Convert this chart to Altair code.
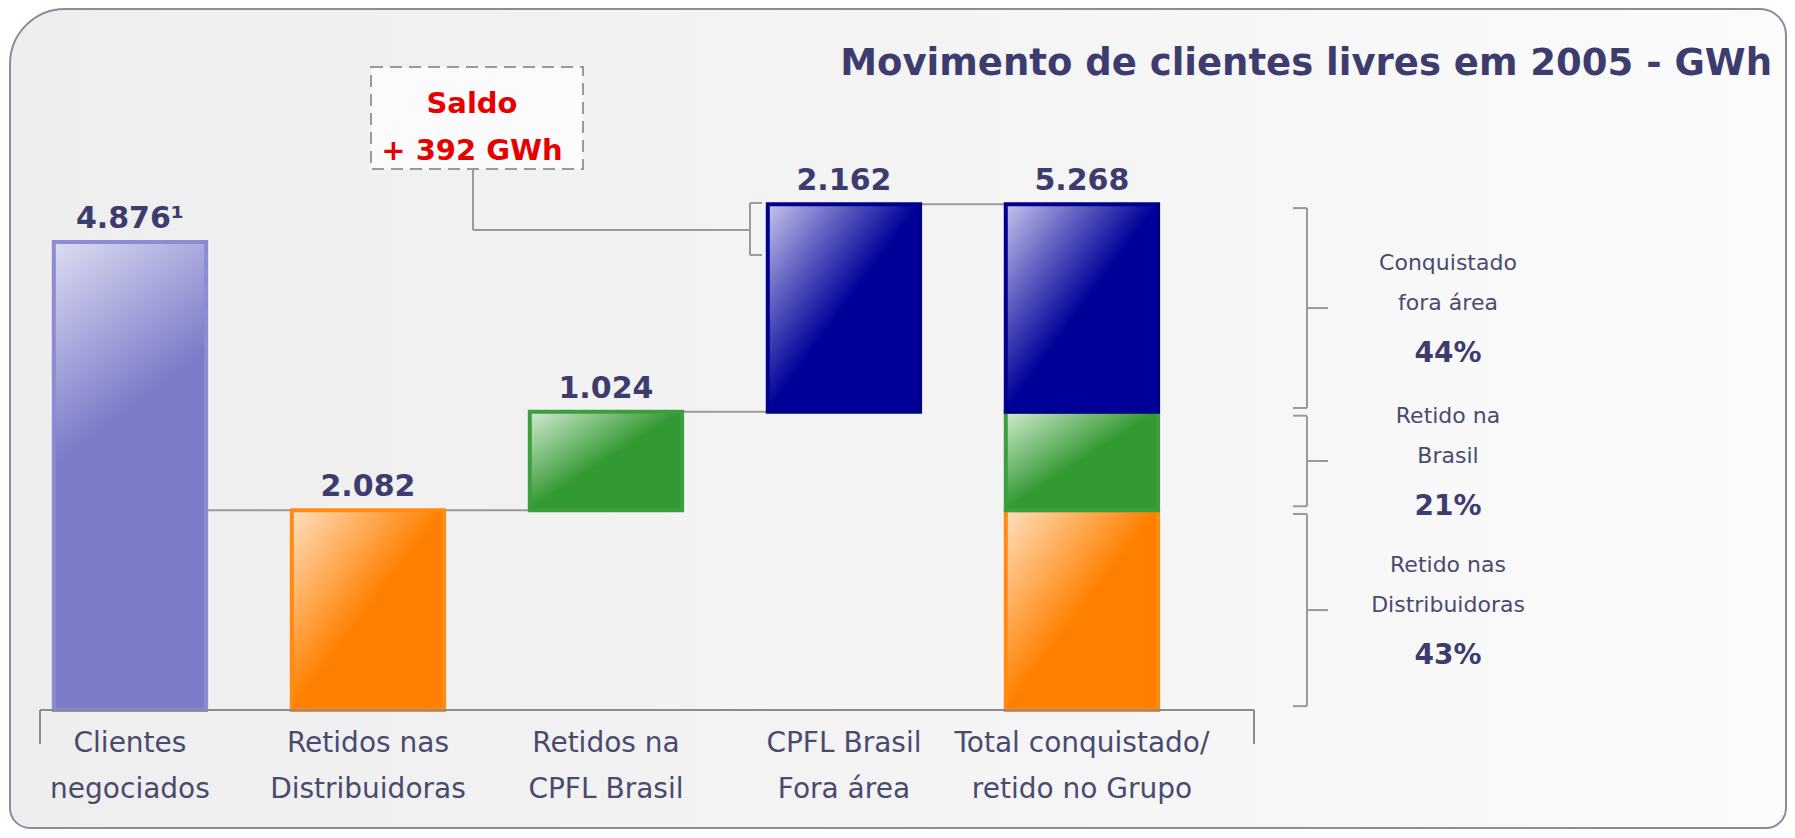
import altair as alt
import pandas as pd

# ---------------- data ----------------
categories = [
    "Clientes\nnegociados",
    "Retidos nas\nDistribuidoras",
    "Retidos na\nCPFL Brasil",
    "CPFL Brasil\nFora área",
    "Total conquistado/\nretido no Grupo",
]
clientes_negociados = 4876
retidos_distribuidoras = 2082
retidos_cpfl_brasil = 1024
cpfl_fora_area = 2162
footnotes = ["¹", "", "", "", ""]

share_labels = ["Conquistado\nfora área", "Retido na\nBrasil", "Retido nas\nDistribuidoras"]
share_pcts = ["44%", "21%", "43%"]

title_text = "Movimento de clientes livres em 2005 - GWh"
saldo_word = "Saldo"

# ---------------- derived tables ----------------
lvl1 = retidos_distribuidoras
lvl2 = lvl1 + retidos_cpfl_brasil
total = lvl2 + cpfl_fora_area
saldo = total - clientes_negociados


def br(n):
    return f"{n:,}".replace(",", ".")


HALF = 0.32
bars = pd.DataFrame({
    "idx": [0, 1, 2, 3, 4, 4, 4],
    "start": [0, 0, lvl1, lvl2, 0, lvl1, lvl2],
    "end": [clientes_negociados, lvl1, lvl2, total, lvl1, lvl2, total],
    "grp": ["lav", "org", "grn", "nav", "org", "grn", "nav"],
})
bars["x0"] = bars["idx"] - HALF
bars["x1"] = bars["idx"] + HALF

tops = [clientes_negociados, lvl1, lvl2, total, total]
labels = pd.DataFrame({
    "idx": list(range(5)),
    "top": tops,
    "cat": categories,
    "txt": [br(v) + f for v, f in zip([clientes_negociados, retidos_distribuidoras,
                                        retidos_cpfl_brasil, cpfl_fora_area, total], footnotes)],
})

conn = pd.DataFrame({
    "xa": [0 + HALF, 2 + HALF, 3 + HALF],
    "xb": [2 - HALF, 3 - HALF, 4 - HALF],
    "lvl": [lvl1, lvl2, total],
})

GAP = 40  # small visual gap between brackets, in data units
segs = pd.DataFrame({
    "start": [lvl2, lvl1, 0],
    "end": [total, lvl2, lvl1],
    "label": share_labels,
    "pct": share_pcts,
})
segs["mid"] = (segs["start"] + segs["end"]) / 2
segs["gs"] = segs["start"] + GAP
segs["ge"] = segs["end"] - GAP

one = pd.DataFrame({"d": [0]})

# ---------------- layout / style ----------------
W, H = 1214, 672
XS = alt.Scale(domain=[-0.378, 4.723], nice=False, zero=False)
YS = alt.Scale(domain=[0, 7000], nice=False)
NAVY_TXT = "#3c3c6e"
LBL_TXT = "#4a4a70"
FONT = "DejaVu Sans"
gray = "#9a9a9a"


def X(f):
    return alt.X(f, scale=XS, axis=None)


def Y(f):
    return alt.Y(f, scale=YS, axis=None)


def grad(light, base, x2=1.0, y2=1.0, stop=0.5):
    return alt.LinearGradient(
        gradient="linear", x1=0, y1=0, x2=x2, y2=y2,
        stops=[alt.GradientStop(color=light, offset=0),
               alt.GradientStop(color=base, offset=stop),
               alt.GradientStop(color=base, offset=1)])


# group: (light, base, stroke, gradient vector x2, y2, stop)
styles = {
    "lav": ("#dcdcf2", "#7b7bc9", "#8c8cd4", 0.22, 0.9, 0.5),
    "org": ("#ffe0c0", "#ff8000", "#ff8a14", 1.0, 1.0, 0.5),
    "grn": ("#d2ead0", "#339933", "#3c9e3c", 1.0, 1.0, 0.5),
    "nav": ("#c4c4ec", "#000099", "#00008a", 1.0, 1.0, 0.5),
}

# frame
frame = alt.Chart(one).mark_rect(
    fill=alt.LinearGradient(gradient="linear", x1=0, y1=0, x2=1, y2=0,
                            stops=[alt.GradientStop(color="#eeeeee", offset=0),
                                   alt.GradientStop(color="#f5f5f5", offset=0.6),
                                   alt.GradientStop(color="#fbfbfb", offset=1)]),
    stroke="#8a8aa0", strokeWidth=2,
    cornerRadiusTopLeft=55, cornerRadiusTopRight=26,
    cornerRadiusBottomLeft=20, cornerRadiusBottomRight=20,
).encode(x=alt.value(-30), x2=alt.value(1746), y=alt.value(-29), y2=alt.value(790))

title = alt.Chart(one).mark_text(
    text=title_text, align="right", baseline="alphabetic", font=FONT,
    fontSize=37, fontWeight="bold", color=NAVY_TXT,
).encode(x=alt.value(1732), y=alt.value(37))

# saldo box
saldo_box = alt.Chart(one).mark_rect(
    fill="#fbfbfb", stroke="#9a9a9a", strokeWidth=2, strokeDash=[12, 7],
).encode(x=alt.value(331), x2=alt.value(543), y=alt.value(29), y2=alt.value(131))
saldo_t1 = alt.Chart(one).mark_text(
    text=saldo_word, align="center", baseline="alphabetic", font=FONT,
    fontSize=29, fontWeight="bold", color="#e60000",
).encode(x=alt.value(432), y=alt.value(75))
saldo_t2 = alt.Chart(one).mark_text(
    text=f"+ {saldo} GWh", align="center", baseline="alphabetic", font=FONT,
    fontSize=29, fontWeight="bold", color="#e60000",
).encode(x=alt.value(432), y=alt.value(122))

saldo_v = alt.Chart(one).mark_rule(color=gray, strokeWidth=2).encode(
    x=alt.value(433), y=alt.value(131), y2=alt.value(192))
saldo_h = alt.Chart(one).mark_rule(color=gray, strokeWidth=2).encode(
    x=alt.value(433), x2=alt.value(710), y=alt.value(192))
saldo_b = alt.Chart(one).mark_rule(color=gray, strokeWidth=2).encode(
    x=alt.value(710), y=alt.value(165), y2=alt.value(217))
saldo_b1 = alt.Chart(one).mark_rule(color=gray, strokeWidth=2).encode(
    x=alt.value(710), x2=alt.value(722), y=alt.value(165))
saldo_b2 = alt.Chart(one).mark_rule(color=gray, strokeWidth=2).encode(
    x=alt.value(710), x2=alt.value(722), y=alt.value(217))

# waterfall connectors
connectors = alt.Chart(conn).mark_rule(color=gray, strokeWidth=2).encode(
    x=X("xa:Q"), x2="xb:Q", y=Y("lvl:Q"))

# bars
bar_layers = []
for g, (light, base, stroke, gx, gy, gs) in styles.items():
    bar_layers.append(
        alt.Chart(bars).transform_filter(alt.datum.grp == g).mark_rect(
            fill=grad(light, base, gx, gy, gs), stroke=stroke, strokeWidth=4,
        ).encode(x=X("x0:Q"), x2="x1:Q", y=Y("start:Q"), y2="end:Q")
    )

# baseline (x axis line) and end ticks
base_line = alt.Chart(one).mark_rule(color="#8c8c8c", strokeWidth=2).encode(
    x=alt.value(0), x2=alt.value(W), y=alt.value(H))
end_l = alt.Chart(one).mark_rule(color="#8c8c8c", strokeWidth=2).encode(
    x=alt.value(0), y=alt.value(H), y2=alt.value(H + 34))
end_r = alt.Chart(one).mark_rule(color="#8c8c8c", strokeWidth=2).encode(
    x=alt.value(W), y=alt.value(H), y2=alt.value(H + 34))

cat_labels = alt.Chart(labels).mark_text(
    align="center", baseline="top", lineBreak="\n", lineHeight=46,
    font=FONT, fontSize=28, color=LBL_TXT,
).encode(x=X("idx:Q"), y=alt.value(H + 20), text="cat:N")

value_labels = alt.Chart(labels).mark_text(
    align="center", baseline="alphabetic", dy=-14, font=FONT,
    fontSize=30, fontWeight="bold", color=NAVY_TXT,
).encode(x=X("idx:Q"), y=Y("top:Q"), text="txt:N")

# right brackets
bx = 1267
br_v = alt.Chart(segs).mark_rule(color=gray, strokeWidth=2).encode(
    x=alt.value(bx), y=Y("ge:Q"), y2="gs:Q")
br_top = alt.Chart(segs).mark_rule(color=gray, strokeWidth=2).encode(
    x=alt.value(bx - 14), x2=alt.value(bx), y=Y("ge:Q"))
br_bot = alt.Chart(segs).mark_rule(color=gray, strokeWidth=2).encode(
    x=alt.value(bx - 14), x2=alt.value(bx), y=Y("gs:Q"))
br_mid = alt.Chart(segs).mark_rule(color=gray, strokeWidth=2).encode(
    x=alt.value(bx), x2=alt.value(bx + 21), y=Y("mid:Q"))

seg_text = alt.Chart(segs).mark_text(
    align="center", baseline="alphabetic", dy=-38, lineBreak="\n", lineHeight=40,
    font=FONT, fontSize=22, color=LBL_TXT,
).encode(x=alt.value(1408), y=Y("mid:Q"), text="label:N")
seg_pct = alt.Chart(segs).mark_text(
    align="center", baseline="alphabetic", dy=54,
    font=FONT, fontSize=28, fontWeight="bold", color=NAVY_TXT,
).encode(x=alt.value(1408), y=Y("mid:Q"), text="pct:N")

chart = alt.layer(
    frame, title, saldo_box, saldo_t1, saldo_t2,
    saldo_v, saldo_h, saldo_b, saldo_b1, saldo_b2,
    connectors, *bar_layers, base_line, end_l, end_r, cat_labels, value_labels,
    br_v, br_top, br_bot, br_mid, seg_text, seg_pct,
).properties(
    width=W, height=H,
    padding={"left": 32, "top": 30, "right": 533, "bottom": 120},
    autosize=alt.AutoSizeParams(type="none"),
    background="#ffffff",
).configure_view(stroke=None)

chart.save("out.html", embed_options={"renderer": "svg", "actions": False})
